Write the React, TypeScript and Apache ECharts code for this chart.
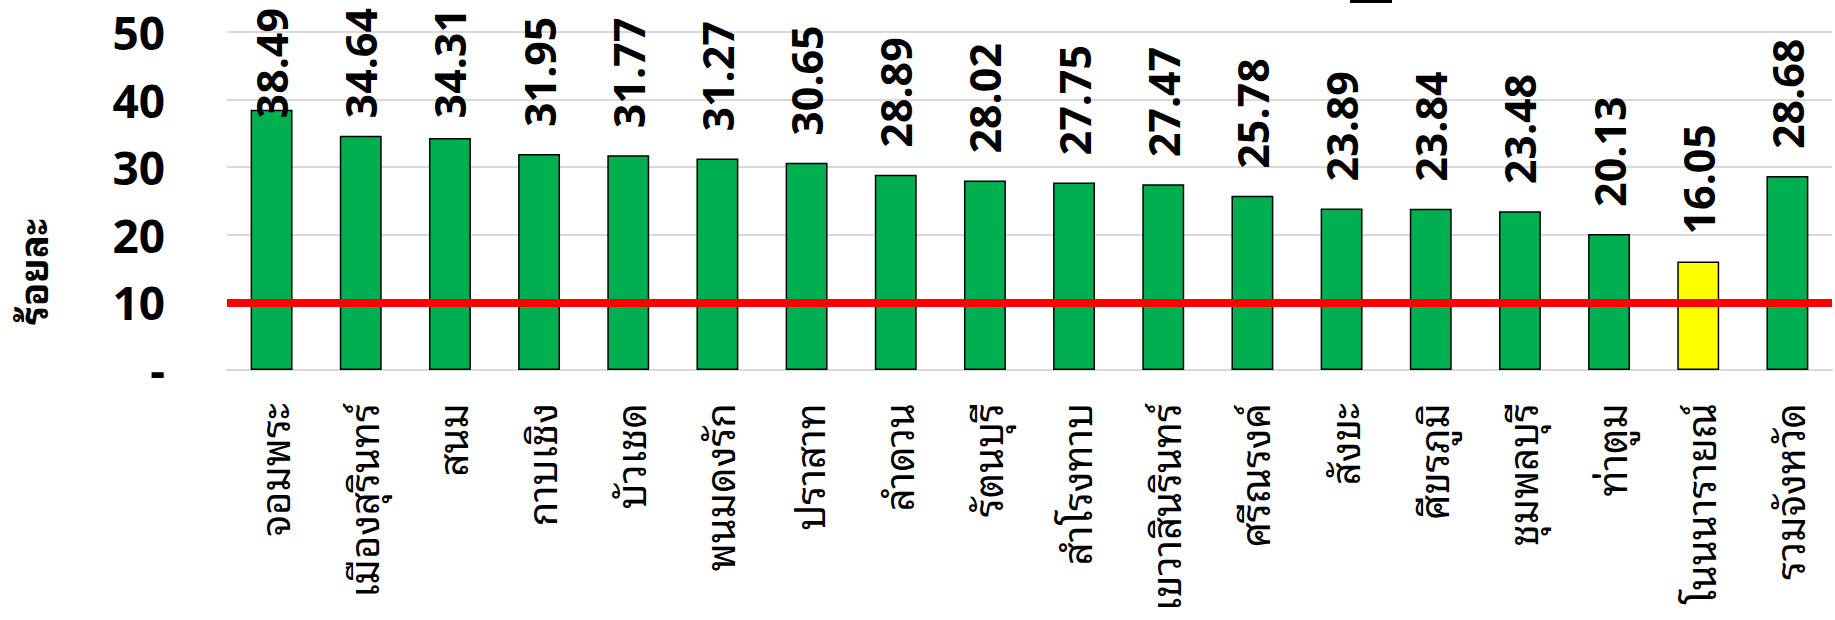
import React, { useEffect, useRef } from "react";
import * as echarts from "echarts";

const categories = [
  "จอมพระ",
  "เมืองสุรินทร์",
  "สนม",
  "กาบเชิง",
  "บัวเชด",
  "พนมดงรัก",
  "ปราสาท",
  "ลำดวน",
  "รัตนบุรี",
  "สำโรงทาบ",
  "เขวาสินรินทร์",
  "ศรีณรงค์",
  "สังขะ",
  "ศีขรภูมิ",
  "ชุมพลบุรี",
  "ท่าตูม",
  "โนนนารายณ์",
  "รวมจังหวัด",
];

const values = [
  38.49, 34.64, 34.31, 31.95, 31.77, 31.27, 30.65, 28.89, 28.02, 27.75, 27.47,
  25.78, 23.89, 23.84, 23.48, 20.13, 16.05, 28.68,
];

const highlighted = ["โนนนารายณ์"];
const targetValue = 10;
const yTicks = [0, 10, 20, 30, 40, 50];
const yAxisTitle = "ร้อยละ";

const FONT = "'Noto Sans', 'DejaVu Sans', sans-serif";
const THAI_FONT =
  "'Noto Sans Thai Looped', Tahoma, Loma, Garuda, 'Tlwg Typo', 'Noto Sans Thai', 'Noto Sans', sans-serif";
const LABEL_SIZE = 43;

export default function App() {
  const ref = useRef<HTMLDivElement>(null);

  useEffect(() => {
    if (!ref.current) return;
    document.body.style.margin = "0";
    const chart = echarts.init(ref.current, undefined, { renderer: "svg" });
    const fmt = (v: number) => v.toFixed(2);
    chart.setOption({
      animation: false,
      backgroundColor: "#ffffff",
      grid: { left: 227, right: 3, top: 32, bottom: 250, containLabel: false },
      xAxis: {
        type: "category",
        data: categories,
        axisLine: { show: true, lineStyle: { color: "#d9d9d9", width: 2 } },
        axisTick: { show: false },
        axisLabel: {
          rotate: 90,
          interval: 0,
          margin: 33,
          fontSize: 40,
          color: "#000",
          fontFamily: THAI_FONT,
        },
      },
      yAxis: {
        type: "value",
        min: yTicks[0],
        max: yTicks[yTicks.length - 1],
        interval: 10,
        axisLine: { show: false },
        axisTick: { show: false },
        splitLine: { lineStyle: { color: "#d9d9d9", width: 2 } },
        axisLabel: {
          margin: 62,
          fontSize: 46,
          fontWeight: "bold",
          color: "#000",
          fontFamily: FONT,
          formatter: (v: number) => (v === 0 ? "-" : String(v)),
        },
      },
      graphic: [
        {
          type: "text",
          x: 30,
          y: 272,
          rotation: Math.PI / 2,
          style: {
            text: yAxisTitle,
            fill: "#000",
            font: `bold 38px ${THAI_FONT}`,
            textAlign: "center",
            textVerticalAlign: "middle",
          },
        },
        {
          type: "rect",
          shape: { x: 1350, y: 0, width: 42, height: 3 },
          style: { fill: "#000" },
        },
      ],
      series: [
        {
          type: "bar",
          data: values,
          barWidth: "47%",
          itemStyle: {
            color: (p: any) =>
              highlighted.includes(p.name) ? "#ffff00" : "#00b050",
            borderColor: "#000",
            borderWidth: 1.5,
          },
          label: {
            show: true,
            position: "top",
            rotate: 90,
            align: "left",
            verticalAlign: "middle",
            distance: 27,
            fontSize: LABEL_SIZE,
            fontWeight: "bold",
            color: "#000",
            fontFamily: FONT,
            formatter: (p: any) => fmt(Number(p.value)),
          },
          markLine: {
            silent: true,
            symbol: "none",
            label: { show: false },
            lineStyle: { color: "#ff0000", width: 8, type: "solid" },
            data: [{ yAxis: targetValue }],
          },
          z: 2,
        },
      ],
    });

    // keep the rotated value labels inside the top edge of the chart
    const canvas = document.createElement("canvas");
    const ctx = canvas.getContext("2d");
    const topLimit = 8;
    const data = values.map((v) => {
      const yPix = chart.convertToPixel({ yAxisIndex: 0 }, v) as number;
      let len = LABEL_SIZE * 2.6;
      if (ctx) {
        ctx.font = `bold ${LABEL_SIZE}px ${FONT}`;
        len = ctx.measureText(fmt(v)).width;
      }
      const d = Math.min(27, yPix - topLimit - len);
      return { value: v, label: { distance: d } };
    });
    chart.setOption({ series: [{ data }] });

    return () => chart.dispose();
  }, []);

  return <div ref={ref} style={{ width: 1835, height: 620 }} />;
}
